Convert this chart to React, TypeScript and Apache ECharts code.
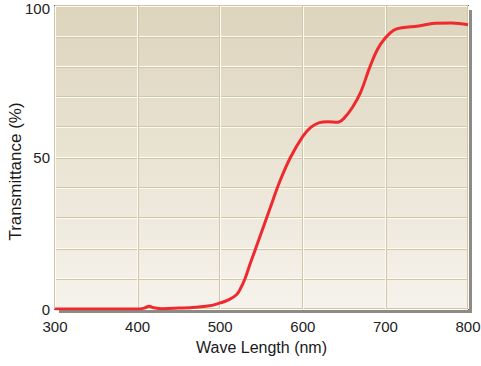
import React, { useEffect, useRef } from "react";
import * as echarts from "echarts";

const wavelengths = [300, 350, 400, 408, 414, 420, 430, 450, 470, 490, 500, 510, 520, 525, 530, 537, 545, 560, 572, 585, 600, 610, 620, 630, 642, 650, 660, 670, 680, 690, 700, 710, 720, 740, 760, 780, 800];
const transmittance = [0, 0, 0, 0.3, 0.9, 0.4, 0.1, 0.3, 0.6, 1.2, 2, 3, 4.8, 7, 10, 15.5, 21.5, 33, 42, 50, 57, 60, 61.5, 61.8, 61.6, 63, 66.5, 71.5, 79, 85.5, 89.5, 92, 92.8, 93.4, 94.3, 94.4, 93.8];
const yLabels = [0, 50, 100];

const G = { left: 55, top: 6, width: 413, height: 303 };

export default function App() {
  const ref = useRef<HTMLDivElement>(null);
  useEffect(() => {
    const chart = echarts.init(ref.current!, undefined, { renderer: "svg" });
    const data = wavelengths.map((w, i) => [w, transmittance[i]]);
    const font = "Liberation Sans, Arial, sans-serif";
    const tan = "#d3c6a6";
    const white = "#fdfbf5";
    const hiddenAxis = {
      axisLine: { show: false },
      axisTick: { show: false },
      axisLabel: { show: false },
    };
    chart.setOption({
      animation: false,
      graphic: [
        {
          type: "rect",
          z: -10,
          silent: true,
          shape: { x: G.left + 4, y: G.top + 4, width: G.width, height: G.height },
          style: { fill: "#8c8b86" },
        },
      ],
      grid: {
        left: G.left,
        top: G.top,
        width: G.width,
        height: G.height,
        outerBoundsMode: "none",
        containLabel: false,
        show: true,
        borderColor: "#686868",
        borderWidth: 2,
        backgroundColor: new echarts.graphic.LinearGradient(0, 0, 0, 1, [
          { offset: 0, color: "#ddd4bc" },
          { offset: 1, color: "#f6f3ec" },
        ]),
      },
      xAxis: [
        {
          type: "value",
          min: 300,
          max: 800,
          interval: 100,
          name: "Wave Length (nm)",
          nameLocation: "middle",
          nameGap: 30,
          nameTextStyle: { fontFamily: font, fontSize: 16, color: "#1a1a1a" },
          axisLine: { show: false },
          axisTick: { show: false },
          axisLabel: { fontFamily: font, fontSize: 15, color: "#222", margin: 10 },
          splitLine: { show: true, lineStyle: { color: tan, width: 2 } },
        },
        {
          type: "value",
          min: 300,
          max: 800,
          interval: 100,
          ...hiddenAxis,
          splitLine: { show: true, lineStyle: { color: white, width: 1 } },
        },
      ],
      yAxis: [
        {
          type: "value",
          min: 0,
          max: 100,
          interval: 10,
          name: "Transmittance (%)",
          nameLocation: "middle",
          nameGap: 31,
          nameMoveOverlap: false,
          nameTextStyle: { fontFamily: font, fontSize: 17, color: "#1a1a1a", padding: [0, 0, 0, -28] },
          axisLine: { show: false },
          axisTick: { show: false },
          axisLabel: {
            fontFamily: font,
            fontSize: 15,
            color: "#222",
            margin: 5,
            formatter: (v: number) => (v === 100 ? "{top|100}" : yLabels.includes(v) ? String(v) : ""),
            rich: { top: { fontFamily: font, fontSize: 15, color: "#222", padding: [5, 0, 0, 0] } },
          },
          splitLine: { show: true, lineStyle: { color: tan, width: 2 } },
        },
        {
          type: "value",
          min: 0,
          max: 100,
          interval: 10,
          ...hiddenAxis,
          splitLine: { show: true, lineStyle: { color: white, width: 1 } },
        },
      ],
      series: [
        {
          type: "line",
          data,
          smooth: 0.4,
          showSymbol: false,
          lineStyle: { color: "#ee2a2f", width: 3 },
        },
      ],
    });
    return () => chart.dispose();
  }, []);
  return <div ref={ref} style={{ position: "absolute", left: 0, top: 0, width: 481, height: 366 }} />;
}
